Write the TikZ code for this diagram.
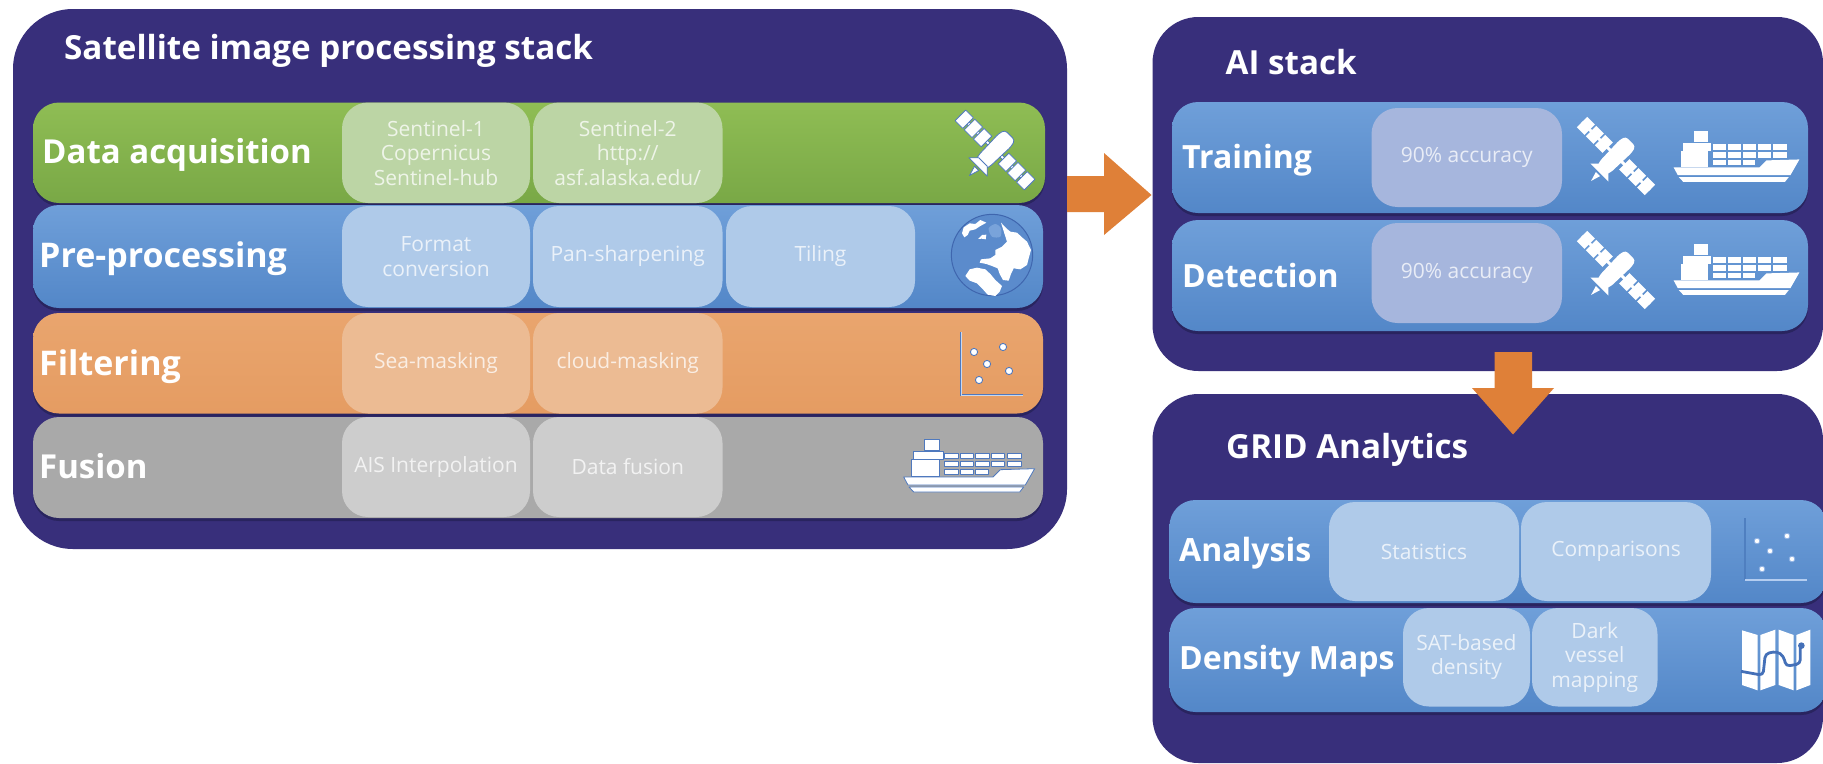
\documentclass[tikz,border=0pt]{standalone}
\usepackage{fontspec}
\setmainfont{Open Sans}
\definecolor{navy}{HTML}{382F7B}
\definecolor{rowshadow}{HTML}{29245F}
\definecolor{iconline}{HTML}{4F79BE}
\definecolor{arrowc}{HTML}{DF8038}
\definecolor{greenT}{HTML}{8FBD54}
\definecolor{greenB}{HTML}{79A846}
\definecolor{blueT}{HTML}{6F9FD9}
\definecolor{blueB}{HTML}{5387C8}
\definecolor{orangeT}{HTML}{E9A56E}
\definecolor{orangeB}{HTML}{E59C62}
\definecolor{grayR}{HTML}{A9A9A9}
\definecolor{cGreen}{HTML}{BCD5A5}
\definecolor{cBlue}{HTML}{AFCAE9}
\definecolor{cOrange}{HTML}{ECBB93}
\definecolor{cGray}{HTML}{CDCDCD}
\definecolor{cAI}{HTML}{A6B6DD}
\definecolor{axisLight}{HTML}{C9D8EF}
\definecolor{axisDark}{HTML}{4F7FC0}
\definecolor{axisPale}{HTML}{B4CDF0}
\definecolor{dotEdge}{HTML}{8FB2E4}
\definecolor{globeFill}{HTML}{5B8BCC}
\definecolor{globeEdge}{HTML}{3F66AE}
\definecolor{globePatch}{HTML}{79A3DA}
\definecolor{mapRoad}{HTML}{4470B8}
\newcommand{\rbox}[7]{%
  \pgfmathsetmacro\wid{#5-#3}\pgfmathsetmacro\hei{#6-#4}%
  \node[#1, minimum width=\wid pt, minimum height=\hei pt, anchor=north west] (#2) at (#3,#4) {#7};}
\newcommand{\rowbox}[6]{%
  \pgfmathsetmacro\wid{#5-#3}\pgfmathsetmacro\hei{#6-#4}%
  \node[rowsh, minimum width=\wid pt, minimum height=\hei pt, anchor=north west] (#2s) at (#3,#4+3) {};
  \node[#1, minimum width=\wid pt, minimum height=\hei pt, anchor=north west] (#2) at (#3,#4) {};}
\tikzset{
  base/.style={inner sep=0pt, outer sep=0pt, rectangle, rounded corners=26pt},
  panel/.style={base, fill=navy, rounded corners=#1},
  rowsh/.style={base, fill=rowshadow},
  rowgreen/.style={base, top color=greenT, bottom color=greenB},
  rowblue/.style={base, top color=blueT, bottom color=blueB},
  roworange/.style={base, top color=orangeT, bottom color=orangeB},
  rowgray/.style={base, fill=grayR},
  cell/.style={base, align=center, text=white, text opacity=.75, font=\fontsize{21}{24.5}\selectfont},
  cellgreen/.style={cell, fill=cGreen},
  cellblue/.style={cell, fill=cBlue},
  cellorange/.style={cell, fill=cOrange},
  cellgray/.style={cell, fill=cGray},
  cellai/.style={cell, fill=cAI},
  ttl/.style={inner sep=0pt, anchor=west, text=white, font=\bfseries\fontsize{33.2}{38}\selectfont},
  lbl/.style={inner sep=0pt, anchor=west, text=white, font=\bfseries\fontsize{#1}{38}\selectfont},
  lbl/.default=32,
  blockarrow/.style={fill=arrowc, draw=none},
  ic/.style={fill=white, draw=iconline, line width=.8pt, line join=round},
  dot/.style={fill=white, draw=iconline, line width=.9pt},
  satellite/.pic={
    \begin{scope}[rotate=-45]
      \path[ic] (-49,-1.5) rectangle (49,1.5);
      \foreach \a in {-49,-36,-23,12,25,38}{
        \path[ic] (\a,-7.5) rectangle (\a+11,7.5);
      }
      \path[ic, rounded corners=3pt] (-7,-21) -- (7,-21) -- (9,-14) -- (8,16) -- (6,20) -- (-6,20) -- (-8,16) -- (-9,-14) -- cycle;
      \path[ic] (-13,24) -- (13,24) -- (6,17) -- (-6,17) -- cycle;
      \path[ic] (-3,26) -- (3,26) -- (0,36) -- cycle;
    \end{scope}
  },
  ship/.pic={
    \begin{scope}[x=.3333pt,y=-.3333pt,shift={(-70,-115)}]
      \path[ic] (135,118) -- (178,118) -- (178,152) -- (135,152) -- cycle;
      \path[ic] (100,155) -- (190,155) -- (190,180) -- (100,180) -- cycle;
      \path[ic] (95,180) -- (178,180) -- (178,230) -- (95,230) -- cycle;
      \foreach \cx/\cw in {195/40,241/41,288/40,335/40,382/43}{
        \path[ic] (\cx,160) rectangle +(\cw,17);
        \path[ic] (\cx,184) rectangle +(\cw,17);
      }
      \foreach \cx/\cw in {195/40,241/41,288/37}{
        \path[ic] (\cx,208) rectangle +(\cw,17);
      }
      \path[ic] (72,232) -- (340,232) -- (362,210) -- (465,207) -- (437,256) -- (85,256) -- cycle;
      \path[ic] (88,262) -- (432,262) -- (420,277) -- (102,277) -- cycle;
    \end{scope}
  },
  globe/.pic={
    \begin{scope}[x=.3333pt,y=-.3333pt,shift={(-335,-165)}]
      \path[fill=globeFill, draw=globeEdge, line width=1pt] (335,165) circle (122);
      \path[fill=globePatch, draw=none] plot[smooth cycle] coordinates {(325,85)(345,72)(362,85)(360,110)(335,110)};
      \path[fill=white] (245,100) -- (250,82) -- (268,70) -- (285,72) -- (300,60) -- (318,68) -- (300,78) -- (285,88) -- (268,92) -- (262,105) -- (252,112) -- cycle;
      \path[fill=white] (293,117) -- (305,105) -- (318,104) -- (316,118) -- (304,116) -- cycle;
      \path[fill=white] (362,68) -- (378,85) -- (390,95) -- (410,98) -- (425,112) -- (440,125) -- (452,150) -- (445,175) -- (440,195) -- (420,208) -- (400,205) -- (392,222) -- (385,242) -- (368,240) -- (358,222) -- (352,205) -- (335,198) -- (318,192) -- (298,188) -- (302,178) -- (330,175) -- (345,165) -- (345,150) -- (365,140) -- (380,125) -- (372,100) -- cycle;
      \path[fill=white] (255,228) -- (268,208) -- (290,203) -- (315,208) -- (330,222) -- (345,240) -- (365,258) -- (358,275) -- (345,288) -- (322,284) -- (305,265) -- (290,250) -- (268,242) -- cycle;
    \end{scope}
  },
  foldmap/.pic={
    \begin{scope}[x=.3333pt,y=-.3333pt,shift={(-62,-355)}]
      \path[fill=white, line join=round] (65,362) -- (112,376) -- (112,542) -- (65,526) -- cycle;
      \path[fill=white, line join=round] (120,376) -- (165,360) -- (165,526) -- (120,542) -- cycle;
      \path[fill=white, line join=round] (175,360) -- (220,376) -- (220,542) -- (175,526) -- cycle;
      \path[fill=white, line join=round] (228,376) -- (270,360) -- (270,526) -- (228,542) -- cycle;
      \draw[draw=mapRoad, line width=2.8pt, line join=round, rounded corners=4pt] (62,485) -- (128,497) -- (135,432) -- (170,425) -- (190,440) -- (197,470) -- (240,462) -- (240,415);
      \path[fill=mapRoad] (243,408) circle (10);
    \end{scope}
  },
}
\begin{document}
\begin{tikzpicture}[x=1pt,y=-1pt]
\useasboundingbox (0,0) rectangle (1823,763);
\fill[white] (0,0) rectangle (1823,763);
\begin{scope}
\clip (0,0) rectangle (1823,763);
% panels
\rbox{panel=60pt}{pMain}{13}{9}{1067}{549}{}
\rbox{panel=46pt}{pAI}{1152.5}{17}{1823}{371}{}
\rbox{panel=46pt}{pGrid}{1152.5}{394}{1823}{763}{}
\node[ttl] (tMain) at (64,51) {Satellite image processing stack};
\node[ttl] (tAI) at (1225.5,62) {AI stack};
\node[ttl] (tGrid) at (1226,450) {GRID Analytics};

% main rows
\rowbox{rowgreen}{rA}{33}{102.5}{1045}{203}
\rowbox{rowblue}{rB}{33}{205}{1043}{308}
\rowbox{roworange}{rC}{33}{313}{1043}{413.5}
\rowbox{rowgray}{rD}{33}{417}{1043}{518}
\node[lbl=33] (lA) at (42,155) {Data acquisition};
\node[lbl=34] (lB) at (39,259) {Pre-processing};
\node[lbl=34] (lC) at (39,367) {Filtering};
\node[lbl=33] (lD) at (39,466) {Fusion};

\rbox{cellgreen}{cA1}{342}{102.5}{530}{203}{Sentinel-1\\Copernicus\\Sentinel-hub}
\rbox{cellgreen}{cA2}{533}{102.5}{722.5}{203}{Sentinel-2\\http://\\asf.alaska.edu/}
\rbox{cellblue}{cB1}{342}{206}{530}{307}{Format\\conversion}
\rbox{cellblue}{cB2}{533}{206}{722.5}{307}{Pan-sharpening}
\rbox{cellblue}{cB3}{726}{206}{915}{307}{Tiling}
\rbox{cellorange}{cC1}{342}{313}{530}{413.5}{Sea-masking}
\rbox{cellorange}{cC2}{533}{313}{722.5}{413.5}{cloud-masking}
\rbox{cellgray}{cD1}{342}{417}{530}{517}{AIS Interpolation}
\rbox{cellgray}{cD2}{533}{417}{722.5}{517}{Data fusion}

\pic (iSat) at (995,150) {satellite};
\pic (iGlobe) at (992,255) {globe};
\pic (iShip) at (903,438) {ship};

% scatter 1
\draw[draw=iconline, line width=2.6pt] (961,332) -- (961,395) -- (1023,395);
\draw[draw=axisLight, line width=.8pt] (961,332) -- (961,395) -- (1023,395);
\foreach \dx/\dy in {1003/347,974/352,987/364,1009/371,979/380}{
  \path[dot] (\dx,\dy) circle (3.6);
}

% AI rows
\rowbox{rowblue}{rT}{1172}{102}{1808}{213}
\rowbox{rowblue}{rE}{1172}{220}{1808}{331}
\node[lbl] (lT) at (1182,160) {Training};
\node[lbl] (lE) at (1182,275) {Detection};
\rbox{cellai}{cT}{1371.5}{108}{1562}{207}{90\% accuracy}
\rbox{cellai}{cE}{1371.5}{223}{1562}{323}{90\% accuracy}
\tikzset{ic/.style={fill=white, draw=none}}
\pic[scale=.98] (iSatT) at (1616,156) {satellite};
\pic[scale=.98] (iSatE) at (1616,270) {satellite};
\pic[scale=.96] (iShipT) at (1673,130) {ship};
\pic[scale=.96] (iShipE) at (1673,243) {ship};
\tikzset{ic/.style={fill=white, draw=iconline, line width=.8pt, line join=round}}

% GRID rows
\rowbox{rowblue}{rG}{1169.5}{500}{1827}{603}
\rowbox{rowblue}{rM}{1169.5}{608}{1827}{712}
\node[lbl] (lG) at (1179,553) {Analysis};
\node[lbl] (lM) at (1179,661) {Density Maps};
\rbox{cellblue}{cG1}{1329}{502}{1519}{601}{Statistics}
\rbox{cellblue}{cG2}{1521}{502}{1711}{601}{Comparisons}
\rbox{cellblue}{cM1}{1403}{608}{1530}{706.5}{SAT-based\\density}
\rbox{cellblue}{cM2}{1532}{608}{1657.5}{706.5}{Dark\\vessel\\mapping}
\pic (iMap) at (1741,628) {foldmap};

% scatter 2
\draw[draw=axisDark, line width=2pt] (1745,518) -- (1745,580);
\draw[draw=axisPale, line width=1.2pt] (1745,580) -- (1807,580);
\foreach \dx/\dy in {1757/541,1787/536,1770/551,1792/559,1762/569}{
  \path[fill=white, draw=dotEdge, line width=.8pt] (\dx,\dy) circle (2.8);
}

% block arrows
\path[blockarrow] (1067,176) -- (1104,176) -- (1104,153) -- (1151.5,195) -- (1104,235) -- (1104,212) -- (1067,212) -- cycle;
\path[blockarrow] (1494.5,352) -- (1532,352) -- (1532,388) -- (1554,388) -- (1513,434.5) -- (1472,388) -- (1494.5,388) -- cycle;
\end{scope}
\end{tikzpicture}
\end{document}
